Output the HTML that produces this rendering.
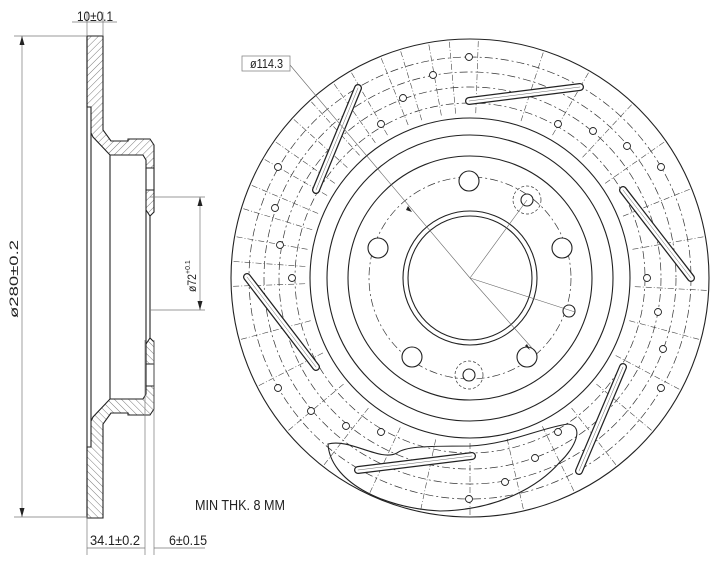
<!DOCTYPE html>
<html><head><meta charset="utf-8"><style>
html,body{margin:0;padding:0;background:#fff;}
svg{display:block;}
text{font-family:"Liberation Sans","DejaVu Sans",sans-serif;fill:#222;}
</style></head><body>
<svg id="s" width="719" height="570" viewBox="0 0 719 570" xmlns="http://www.w3.org/2000/svg">
<defs>
<pattern id="h" width="5" height="5" patternUnits="userSpaceOnUse" patternTransform="rotate(45)">
<line x1="0" y1="0" x2="0" y2="5" stroke="#444" stroke-width="0.7"/>
</pattern>
</defs>
<g id="prof" stroke="#222" stroke-width="1.1" fill="none">
<g id="half">
<path d="M87,36 L103,36 L103,130 L111,141 L128,141 L128,139 L150,139 L154,145 L154,168 L146,168 L146,160 L143,155 L110,155 L93,137 L91,133 L91,107 L87,107 Z" fill="url(#h)"/>
<path d="M87,107 L87,36" />
<path d="M146,190 L154,190 L154,212 L150,216 L146,210 Z" fill="url(#h)"/>
<line x1="146" y1="168" x2="146" y2="190"/>
<line x1="154" y1="168" x2="154" y2="190"/>
</g>
<use href="#half" transform="translate(0,554) scale(1,-1)"/>
<line x1="87" y1="107" x2="87" y2="447"/>
<line x1="91" y1="133" x2="91" y2="421"/>
<line x1="110" y1="155" x2="110" y2="399"/>
<line x1="150" y1="216" x2="150" y2="338"/>
<line x1="146" y1="210" x2="146" y2="344"/>
</g>
<g stroke="#777" stroke-width="0.7" fill="none">
<line x1="87" y1="36" x2="87" y2="12"/><line x1="103" y1="36" x2="103" y2="12"/>
<line x1="72" y1="22" x2="117" y2="22"/>
<line x1="14" y1="36" x2="87" y2="36"/><line x1="14" y1="517" x2="87" y2="517"/>
<line x1="22" y1="36" x2="22" y2="517"/>
<line x1="150" y1="197" x2="205" y2="197"/><line x1="150" y1="310" x2="205" y2="310"/>
<line x1="200" y1="197" x2="200" y2="310"/>
<line x1="87" y1="517" x2="87" y2="555"/>
<line x1="145" y1="340" x2="145" y2="555"/><line x1="154" y1="340" x2="154" y2="555"/>
<line x1="87" y1="548" x2="145" y2="548"/><line x1="154" y1="548" x2="205" y2="548"/>
</g>
<g fill="#222">
<path d="M22,36 l-2.5,9 h5z"/><path d="M22,517 l-2.5,-9 h5z"/>
<path d="M200,197 l-2.5,9 h5z"/><path d="M200,310 l-2.5,-9 h5z"/>
</g>
<text x="77" y="21" font-size="14" textLength="36" lengthAdjust="spacingAndGlyphs">10±0.1</text>
<text x="90" y="545" font-size="14" textLength="50" lengthAdjust="spacingAndGlyphs">34.1±0.2</text>
<text x="169" y="545" font-size="14" textLength="38" lengthAdjust="spacingAndGlyphs">6±0.15</text>
<text transform="translate(18,318) rotate(-90)" font-size="12" textLength="78" lengthAdjust="spacingAndGlyphs">ø280±0.2</text>
<text transform="translate(196,292) rotate(-90)" font-size="12" textLength="18" lengthAdjust="spacingAndGlyphs">ø72</text>
<text transform="translate(190,274) rotate(-90)" font-size="7">+0.1</text>
<text x="195" y="510" font-size="15" textLength="90" lengthAdjust="spacingAndGlyphs">MIN THK. 8 MM</text>
<g id="disc" stroke="#222" fill="none" stroke-width="1.1">
<circle cx="470" cy="278" r="239"/>
<circle cx="470" cy="278" r="160"/>
<circle cx="470" cy="278" r="143"/>
<circle cx="470" cy="278" r="122"/>
<circle cx="470" cy="278" r="67"/>
<circle cx="470" cy="278" r="62"/>
</g>
<g id="dash" stroke="#333" fill="none" stroke-width="0.7" stroke-dasharray="8,3,2,3">
<circle cx="470" cy="278" r="101"/>
<circle cx="470" cy="278" r="221"/>
<circle cx="470" cy="278" r="206"/>
<circle cx="470" cy="278" r="191"/>
<circle cx="470" cy="278" r="175"/>
</g>
<g id="rad" stroke="#444" stroke-width="0.6" stroke-dasharray="6,2,1,2"></g>
<g stroke="#222" fill="#fff" stroke-width="1.1">
<circle cx="469" cy="181" r="10"/><circle cx="378" cy="248" r="10"/><circle cx="562" cy="248" r="10"/>
<circle cx="412" cy="357" r="10"/><circle cx="527" cy="357" r="10"/>
<circle cx="527" cy="200" r="6"/><circle cx="469" cy="375" r="6"/><circle cx="569" cy="311" r="6"/>
</g>
<g stroke="#333" fill="none" stroke-width="0.7" stroke-dasharray="3,2">
<circle cx="527" cy="200" r="14"/><circle cx="469" cy="375" r="14"/>
</g>
<g id="dots" stroke="#222" fill="#fff" stroke-width="0.9"></g>
<g stroke="#222" fill="#fff" stroke-width="1.1" stroke-linecap="round">
<g id="slots"></g>
</g>
<path d="M328,444 C350,438 380,462 397,453 C405,447 420,446 470,446 C510,444 540,428 568,424 C585,426 575,448 560,462 C540,485 500,510 440,511 C380,508 330,480 328,444 Z" stroke="#222" fill="none" stroke-width="1.1"/>
<g stroke="#666" stroke-width="0.6" fill="none">
<line x1="290" y1="65" x2="470" y2="278"/>
<line x1="470" y1="278" x2="532" y2="348"/>
<line x1="470" y1="278" x2="527" y2="200"/>
<line x1="470" y1="278" x2="575" y2="312"/>
</g>
<path d="M408,206 l4,6 l-6,-2z M530,350 l-5,-4 l2,-2z" fill="#222"/>
<rect x="242" y="56" width="48" height="15" fill="#fff" stroke="#888" stroke-width="0.8"/>
<text x="250" y="68" font-size="13" textLength="33" lengthAdjust="spacingAndGlyphs">ø114.3</text>
</svg>
<script>
var ns="http://www.w3.org/2000/svg",cx=470,cy=278;
function el(p,t,a){var e=document.createElementNS(ns,t);for(var k in a)e.setAttribute(k,a[k]);document.getElementById(p).appendChild(e);}
var angs=[-88,-72,-60,-47,-35,-22,-10,3,15,28,40,52,64,77,90,102,115,128,140,153,165,178,190,203,215,228,240,253,265,-100,-112,-125,-138,-150,-163,-176];
angs.forEach(function(a){var r=a*Math.PI/180;el("rad","line",{x1:cx+165*Math.cos(r),y1:cy+165*Math.sin(r),x2:cx+237*Math.cos(r),y2:cy+237*Math.sin(r)});});
[[469,57],[433,75],[403,98],[381,124],[278,167],[275,208],[280,245],[292,278],[278,388],[311,411],[346,426],[381,432],[505,482],[469,499],[535,458],[558,432],[661,388],[663,349],[658,312],[647,278],[661,167],[627,146],[593,131],[558,124]].forEach(function(d){el("dots","circle",{cx:d[0],cy:d[1],r:3.5});});
[[358,88,316,190],[469,101,580,87],[623,190,691,278],[623,367,579,471],[472,456,358,470],[247,277,316,367]].forEach(function(s){
el("slots","line",{x1:s[0],y1:s[1],x2:s[2],y2:s[3],"stroke-width":8,stroke:"#222"});
el("slots","line",{x1:s[0],y1:s[1],x2:s[2],y2:s[3],"stroke-width":5.5,stroke:"#fff"});
el("slots","line",{x1:s[0],y1:s[1],x2:s[2],y2:s[3],"stroke-width":0.5,stroke:"#666"});});
</script>
</body></html>
